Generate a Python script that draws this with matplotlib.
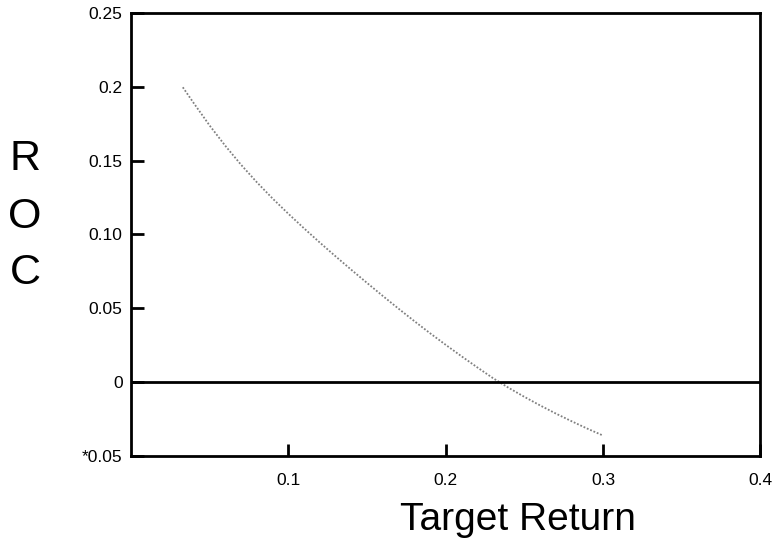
import numpy as np
import matplotlib
matplotlib.use("Agg")
from matplotlib import pyplot as plt

plt.rcParams["font.family"] = ["Liberation Sans", "DejaVu Sans"]

# curve
target_return = [0.033, 0.04, 0.05, 0.06, 0.07, 0.08, 0.09, 0.10, 0.11, 0.12,
                 0.13, 0.14, 0.15, 0.16, 0.17, 0.18, 0.19, 0.20, 0.21, 0.22,
                 0.23, 0.24, 0.25, 0.26, 0.27, 0.28, 0.29, 0.30]
roc = [0.1996, 0.1888, 0.1738, 0.160, 0.1472, 0.1354, 0.1244, 0.1141, 0.1042, 0.0946,
       0.0853, 0.0762, 0.0673, 0.0585, 0.0499, 0.0415, 0.0333, 0.0254, 0.0177, 0.0102,
       0.0029, -0.0037, -0.0098, -0.0156, -0.0211, -0.0263, -0.0313, -0.036]

xticks = [0.1, 0.2, 0.3, 0.4]
xtick_labels = ["0.1", "0.2", "0.3", "0.4"]
yticks = [-0.05, 0, 0.05, 0.10, 0.15, 0.2, 0.25]
ytick_labels = ["*0.05", "0", "0.05", "0.10", "0.15", "0.2", "0.25"]

fig = plt.figure(figsize=(7.79, 5.55), dpi=100)
ax = fig.add_axes([0.168, 0.178, 0.808, 0.799])

ax.plot(target_return, roc, color="#808080", lw=1.3, linestyle=(0, (1, 1)))
ax.axhline(0, color="black", lw=2)

ax.set_xlim(0, 0.4)
ax.set_ylim(-0.05, 0.25)
ax.set_xticks(xticks)
ax.set_xticklabels(xtick_labels)
ax.set_yticks(yticks)
ax.set_yticklabels(ytick_labels)
ax.tick_params(direction="in", length=9, width=2, labelsize=12.5)
ax.tick_params(axis="x", pad=12)
ax.tick_params(axis="y", pad=6)
for s in ax.spines.values():
    s.set_linewidth(2)

fig.text(518 / 779, 1 - 520 / 555, "Target Return", fontsize=28,
         ha="center", va="center")
for ch, yp in zip("ROC", [159, 217, 273]):
    fig.text(25 / 779, 1 - yp / 555, ch, fontsize=31, ha="center", va="center")

fig.savefig("out.png", dpi=100)
